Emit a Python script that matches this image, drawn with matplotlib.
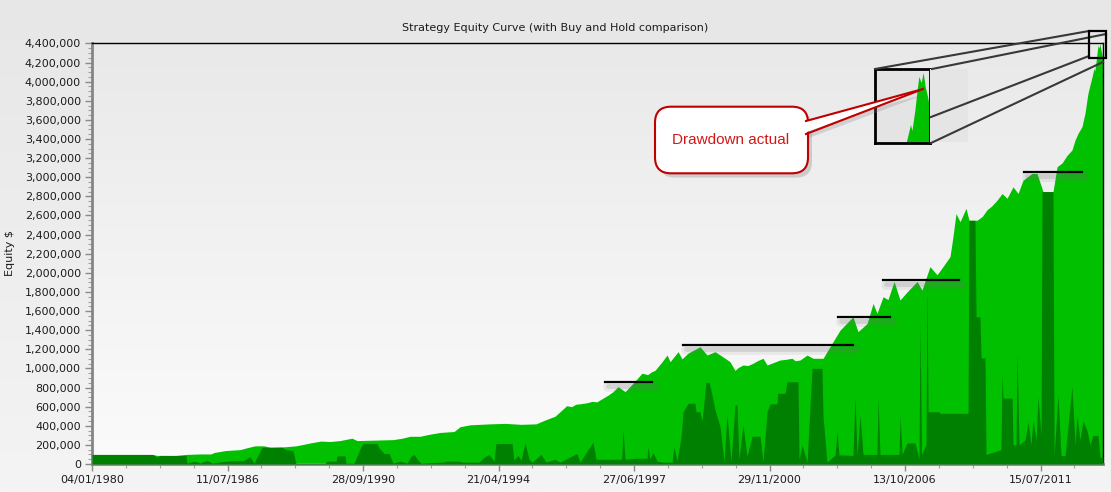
import numpy as np
import matplotlib
matplotlib.use('Agg')
import matplotlib.pyplot as plt
import matplotlib.transforms as mtransforms
from matplotlib.colors import LinearSegmentedColormap
from matplotlib.patches import FancyBboxPatch, Polygon, Rectangle
from matplotlib.ticker import FuncFormatter, MultipleLocator, FixedLocator

# Strategy equity (bar number, equity in $000)
eq_bar = [0, 428, 450, 480, 613, 694, 797, 878, 900, 982, 1040, 1092, 1144, 1203, 1269,
          1314, 1424, 1505, 1560, 1609, 1690, 1756, 1830, 1919, 1956, 2089, 2221, 2290,
          2347, 2421, 2487, 2568, 2672, 2716, 2790, 2937, 3048, 3166, 3277, 3343, 3417,
          3454, 3503, 3540, 3570, 3601, 3650, 3690, 3725, 3808, 3845, 3882, 3934, 3993,
          4059, 4100, 4130, 4155, 4207, 4244, 4266, 4325, 4354, 4399, 4487, 4539, 4598,
          4672, 4708, 4745, 4770, 4804, 4840, 4878, 4910, 4952, 4982, 5077, 5120, 5166,
          5190, 5225, 5277, 5321, 5395, 5446, 5520, 5616, 5653, 5720, 5764,
          5793, 5838, 5874, 5919, 5963, 6015, 6089, 6125, 6184, 6236, 6280, 6332, 6354,
          6376, 6406, 6450, 6472, 6531, 6570, 6605, 6640, 6679, 6716, 6753, 6797, 6834,
          6871, 6937, 6974, 7018, 7092, 7122, 7159, 7196, 7232, 7255, 7277, 7306, 7328,
          7350, 7380, 7395, 7400, 7410, 7417, 7424, 7432, 7439, 7446, 7454, 7461]
eq_k = [100, 100, 98, 90, 88, 100, 105, 105, 120, 140, 146, 150, 170, 190, 190,
        175, 180, 190, 205, 220, 240, 235, 245, 270, 245, 250, 255, 270,
        290, 290, 310, 330, 340, 390, 410, 420, 425, 415, 420, 460, 500,
        547, 610, 600, 625, 630, 640, 655, 650, 720, 757, 810, 757, 845,
        950, 935, 965, 980, 1070, 1140, 1070, 1175, 1100, 1160, 1227, 1140, 1175,
        1106, 1070, 980, 1010, 1036, 1030, 1054, 1080, 1106, 1036, 1088, 1095, 1106,
        1080, 1088, 1140, 1106, 1106, 1227, 1400, 1540, 1385, 1470, 1680,
        1577, 1750, 1720, 1910, 1716, 1800, 1910, 1820, 2065, 1980, 2065, 2170, 2380,
        2620, 2535, 2675, 2550, 2550, 2590, 2660, 2700, 2760, 2830, 2780, 2900, 2830,
        2970, 3040, 3040, 2850, 2850, 3110, 3150, 3230, 3285, 3390, 3460, 3530, 3670,
        3880, 4050, 4140, 4110, 4210, 4300, 4380, 4350, 4400, 4330, 4280, 4230]

# Buy and hold comparison (bar number, $000)
bh_bar = [0, 450, 480, 502, 694, 701, 760, 797, 849, 886, 1011, 1114, 1166, 1196, 1255,
          1402, 1432, 1483, 1505, 1720, 1734, 1801, 1808, 1867, 1875, 1934, 1985, 2000,
          2103, 2118, 2155, 2192, 2221, 2273, 2325, 2354, 2376, 2406, 2428, 2590, 2613,
          2708, 2731, 2856, 2893, 2930, 2967, 2981, 3100, 3114, 3144, 3166, 3196, 3225,
          3247, 3314, 3351, 3417, 3454, 3579, 3601, 3697, 3720, 3909, 3919, 3934, 4007,
          4096, 4103, 4118, 4140, 4170, 4214, 4280, 4295, 4317, 4347, 4362, 4399, 4450,
          4458, 4487, 4502, 4531, 4554, 4576, 4598, 4635, 4664, 4686, 4716, 4745, 4760,
          4775, 4804, 4834, 4871, 4930, 4952, 4982, 5004, 5056, 5059, 5114, 5129, 5210,
          5218, 5240, 5277, 5314, 5387, 5395, 5424, 5484, 5498, 5513, 5616, 5631, 5646,
          5668, 5690, 5793, 5801, 5815, 5956, 5963, 5978, 6015, 6074, 6103, 6111, 6122,
          6155, 6162, 6170, 6251, 6258, 6465, 6472, 6516, 6524, 6553, 6561, 6590, 6598,
          6708, 6716, 6723, 6790, 6797, 6819, 6827, 6841, 6885, 6908, 6930, 6944, 6967,
          6981, 7004, 7011, 7092, 7100, 7129, 7151, 7181, 7232, 7255, 7269, 7291, 7313,
          7343, 7365, 7387, 7424, 7439, 7461]
bh_k = [100, 100, 70, 90, 90, 10, 30, 10, 40, 10, 35, 35, 76, 10, 175,
        175, 150, 140, 5, 5, 30, 30, 85, 85, 10, 10, 180, 215,
        215, 170, 110, 110, 10, 30, 10, 80, 100, 40, 10, 20, 30,
        30, 20, 20, 70, 100, 30, 215, 215, 40, 90, 40, 220, 50,
        20, 100, 20, 50, 20, 110, 20, 230, 50, 50, 356, 50, 60,
        60, 180, 50, 120, 30, 20, 20, 180, 30, 285, 547, 635, 635,
        547, 547, 450, 855, 855, 720, 565, 390, 30, 510, 30, 617, 617,
        50, 410, 80, 290, 290, 30, 547, 630, 630, 740, 740, 860, 860,
        50, 200, 20, 1000, 1000, 500, 20, 95, 340, 95, 90, 700, 90,
        510, 100, 100, 690, 100, 100, 510, 100, 220, 220, 50, 1490, 100,
        200, 1890, 547, 547, 530, 530, 2550, 2550, 1540, 1540, 1110, 1110, 100,
        150, 950, 690, 690, 200, 200, 1160, 200, 250, 440, 200, 460, 250,
        700, 300, 2850, 2850, 90, 720, 90, 90, 810, 200, 500, 250, 450,
        350, 200, 300, 300, 70, 70]

# Previous equity highs marked on the chart (start bar, end bar, level $000)
peak_start = [3786, 4362, 5505, 5838, 6878]
peak_end = [4133, 5616, 5889, 6398, 7306]
peak_k = [855, 1240, 1540, 1930, 3060]

tick_bars = [0, 1000, 2000, 3000, 4000, 5000, 6000, 7000]
tick_dates = ['04/01/1980', '11/07/1986', '28/09/1990', '21/04/1994',
              '27/06/1997', '29/11/2000', '13/10/2006', '15/07/2011']

equity = np.array(eq_k) * 1000.0
buyhold = np.array(bh_k) * 1000.0
peaks = np.array(peak_k) * 1000.0

W, H = 1111, 492
fig = plt.figure(figsize=(W / 100, H / 100), dpi=100)

# figure background gradient
grad = np.linspace(0, 1, 256).reshape(-1, 1)
bg = fig.add_axes([0, 0, 1, 1], zorder=-10)
bg.imshow(grad, aspect='auto', extent=[0, 1, 0, 1],
          cmap=LinearSegmentedColormap.from_list('bgc', ['#e7e7e7', '#f4f4f4']))
bg.axis('off')

ax = fig.add_axes([92 / W, 1 - 464 / H, (1103 - 92) / W, (464 - 42.5) / H], zorder=1)
ax.imshow(grad, aspect='auto', extent=[0, 1, 0, 1], transform=ax.transAxes, zorder=0,
          cmap=LinearSegmentedColormap.from_list('pc', ['#e9e9e9', '#fbfbfb']))

ax.fill_between(eq_bar, 0, equity, color='#00c000', lw=0, zorder=2)
ax.fill_between(bh_bar, 0, buyhold, color='#008000', lw=0, zorder=3)

# peak lines with a soft shadow
sh1 = mtransforms.offset_copy(ax.transData, fig=fig, x=3, y=-5, units='dots')
sh2 = mtransforms.offset_copy(ax.transData, fig=fig, x=3, y=-4, units='dots')
for s, e, lv in zip(peak_start, peak_end, peaks):
    ax.plot([s, e], [lv, lv], color='#707070', alpha=0.1, lw=7, transform=sh1,
            solid_capstyle='round', zorder=4)
    ax.plot([s, e], [lv, lv], color='#707070', alpha=0.18, lw=3.5, transform=sh2,
            solid_capstyle='round', zorder=4)
    ax.plot([s, e], [lv, lv], color='black', lw=1.6, zorder=5)

ax.set_xlim(0, 7461)
ax.set_ylim(0, 4.41e6)

ax.yaxis.set_major_locator(MultipleLocator(200000))
ax.yaxis.set_minor_locator(MultipleLocator(50000))
ax.yaxis.set_major_formatter(FuncFormatter(lambda v, p: f'{v:,.0f}'))
ax.xaxis.set_major_locator(FixedLocator(tick_bars))
ax.xaxis.set_minor_locator(MultipleLocator(250))
ax.set_xticklabels(tick_dates)

ax.tick_params(which='major', length=5, width=1, color='#8a8a8a', labelsize=8,
               labelcolor='#1c1c1c', pad=3)
ax.tick_params(which='minor', length=3, width=0.8, color='#a0a0a0')

for side in ['left', 'bottom']:
    ax.spines[side].set_color('#858585')
    ax.spines[side].set_linewidth(2)
for side in ['top', 'right']:
    ax.spines[side].set_color('black')
    ax.spines[side].set_linewidth(1)

ax.set_ylabel('Equity $', fontsize=8, color='#1c1c1c')
ax.yaxis.set_label_coords((15 - 92) / (1103 - 92), 0.5)

fig.text(0.5, 1 - 28 / H, 'Strategy Equity Curve (with Buy and Hold comparison)',
         ha='center', va='center', fontsize=8, color='#1c1c1c')

# magnified view of the latest drawdown
ins = fig.add_axes([875 / W, 1 - 143 / H, 55 / W, 74 / H], zorder=15)
ins.set_facecolor('#e4e4e4')
ins.fill_between(eq_bar, 0, equity, color='#00c000', lw=0)
ins.set_xlim(7270, 7461)
ins.set_ylim(4.05e6, 4.42e6)
ins.set_xticks([])
ins.set_yticks([])
for sp in ins.spines.values():
    sp.set_color('black')
    sp.set_linewidth(2)

# overlay for the hand-drawn annotations, in pixel units
ov = fig.add_axes([0, 0, 1, 1], zorder=20)
ov.set_xlim(0, W)
ov.set_ylim(H, 0)
ov.axis('off')
ov.patch.set_alpha(0)

ov.add_patch(Rectangle((930, 69), 38, 73, fc='#e5e5e5', ec='none', zorder=0.5))
ov.add_patch(Rectangle((1089, 31), 17, 27, fill=False, ec='black', lw=1.6, zorder=3))
for x0, y0, x1, y1 in [(875, 69, 1089, 31), (932, 69, 1106, 34),
                       (931, 117, 1089, 56), (931, 143, 1103, 62)]:
    ov.plot([x0, x1], [y0, y1], color='#383838', lw=1.5, zorder=2)

# callout
ov.add_patch(FancyBboxPatch((659, 111), 153, 66.6,
                            boxstyle='round,pad=0,rounding_size=16',
                            fc='#808080', alpha=0.3, ec='none', zorder=4))
ov.add_patch(Polygon([(806, 126), (926, 94), (806, 139)], closed=True,
                     fc='#808080', alpha=0.25, ec='none', zorder=4))
ov.add_patch(FancyBboxPatch((655, 106.7), 153, 66.6,
                            boxstyle='round,pad=0,rounding_size=16',
                            fc='white', ec='#c00000', lw=1.5, zorder=5))
ov.add_patch(Polygon([(803, 121.5), (923, 89), (803, 133.5)], closed=True,
                     fc='white', ec='none', zorder=6))
ov.plot([806, 923], [121, 89], color='#c00000', lw=1.5, zorder=7)
ov.plot([806, 923], [134, 89], color='#c00000', lw=1.5, zorder=7)
ov.text(731, 140, 'Drawdown actual', color='#d01818', fontsize=11,
        family=['Liberation Sans', 'DejaVu Sans'], ha='center', va='center', zorder=8)

fig.savefig('out.png', dpi=100)
